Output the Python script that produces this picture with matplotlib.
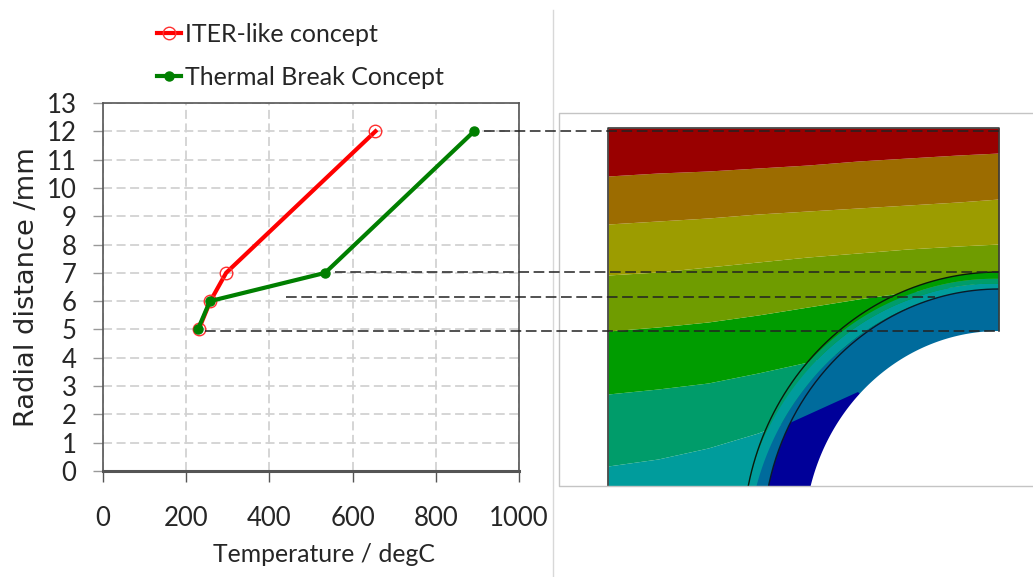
import numpy as np
import matplotlib
matplotlib.use("Agg")
import matplotlib.pyplot as plt

W, H = 1033, 577
plt.rcParams['font.family'] = ['Lato', 'DejaVu Sans']

# ---- chart data
radial_mm = [5, 6, 7, 12]
iter_like_temp = [230, 258, 296, 655]
thermal_break_temp = [228, 257, 534, 892]
series_names = ['ITER-like concept', 'Thermal Break Concept']
x_ticks = [0, 200, 400, 600, 800, 1000]
y_ticks = list(range(0, 14))

# ---- contour map bands (model section, pixels of the section: x from left, y from bottom)
section_x = [0, 50, 100, 150, 200, 250, 300, 350, 391]
red_brown = [310, 313, 315, 318, 321, 325, 328, 331, 333]
brown_yellow = [262, 265, 268, 272, 275, 278, 281, 284, 287]
yellow_olive = [211, 214, 219, 224, 229, 233, 237, 240, 242]
olive_green = [155, 159, 164, 171, 179, 187, 194, 200, 206]
green_tealgreen = [92, 97, 103, 113, 124, 137, 153, 170, 186]
tealgreen_teal = [20, 27, 38, 53, 72, 100, 130, 150, 170]
section_top = 358
band_colors = ['#009C9C', '#009C6A', '#009C00', '#6F9C00', '#9C9C00', '#9C6C00', '#990000']

C_GREEN, C_TGREEN, C_TEAL, C_BLUE, C_NAVY = '#009C00', '#009C6A', '#009C9C', '#006B9C', '#000099'

# ring bands: share of ring thickness measured from the outer arc, per arc angle
ring_angle = [0, 20, 40, 55, 70, 80]
ring_green_end = [.40, .30, .12, 0, 0, 0]
ring_tgreen_end = [.68, .58, .38, .22, .05, 0]
ring_teal_end = [1, 1, .88, .72, .52, .38]

# ellipse semi-axes of the arcs and their centre
centre = (391, -54)
outer_arc = (256, 268)
inner_arc = (236, 251)
hole_arc = (195, 209)
navy_region = [(250, 94), (184, 64), (60, 8), (60, -54), (391, -54)]

# leader lines: (start x, end x, y) in figure pixels
leaders = [(484, 999, 131), (335, 999, 272), (286, 935, 297), (205, 999, 331)]

fig = plt.figure(figsize=(W / 100, H / 100), dpi=100, facecolor='white')


def rect(l, t, r, b):
    return [l / W, 1 - b / H, (r - l) / W, (b - t) / H]


# ---- left chart
ax = fig.add_axes(rect(103, 103, 519, 471))
ax.plot(iter_like_temp, radial_mm, color='#FF0000', lw=3, marker='o', ms=9,
        mfc='none', mec='#FF3030', mew=1, label=series_names[0], clip_on=False, zorder=3)
ax.plot(thermal_break_temp, radial_mm, color='#007F00', lw=3, marker='o', ms=6.5,
        mfc='#007F00', mec='#007F00', label=series_names[1], clip_on=False, zorder=4)
ax.set_xlim(0, 1000)
ax.set_ylim(0, 13)
ax.set_xticks(x_ticks)
ax.set_yticks(y_ticks)
ax.grid(True, color='#D2D2D2', lw=1.3, ls=(0, (5, 2.5)))
ax.set_axisbelow(True)
for side, s in ax.spines.items():
    s.set_color('#555555')
    s.set_linewidth(1.2)
ax.spines['bottom'].set_linewidth(2.2)
ax.tick_params(axis='x', length=8, width=1, color='#555555', pad=17, labelsize=18.5, labelcolor='#262626')
ax.tick_params(axis='y', length=7, width=1, color='#999999', pad=12, labelsize=18.5, labelcolor='#262626')
ax.set_xlabel('Temperature / degC', fontsize=17.8, color='#262626', labelpad=9, x=(324 - 103) / 416)
ax.set_ylabel('Radial distance /mm', fontsize=19.6, color='#262626', labelpad=5,
              family=['DejaVu Sans'])
ax.legend(loc='lower left', bbox_to_anchor=(157 / W, 1 - 89 / H), bbox_transform=fig.transFigure,
          frameon=False, fontsize=18, labelcolor='#262626', handlelength=0.96, handletextpad=0.16,
          labelspacing=0.81, borderpad=0, borderaxespad=0)

# ---- right contour section
pan = fig.add_axes(rect(608, 128, 999, 486))
pan.set_xlim(0, 391)
pan.set_ylim(0, section_top)
pan.axis('off')

n = len(section_x)
edges = [[0] * n, tealgreen_teal, green_tealgreen, olive_green, yellow_olive, brown_yellow,
         red_brown, [section_top] * n]
for i, c in enumerate(band_colors):
    pan.fill_between(section_x, edges[i], edges[i + 1], color=c, lw=0)

t = np.radians(np.linspace(0, 90, 181))


def arc(semi):
    return centre[0] - semi[0] * np.sin(t), centre[1] + semi[1] * np.cos(t)


ox, oy = arc(outer_arc)
ix, iy = arc(inner_arc)


def ring_point(f):
    return ox + (ix - ox) * f, oy + (iy - oy) * f


def profile(vals):
    return np.interp(np.degrees(t), ring_angle, vals)


# matrix inside the inner arc, with its navy part
inner_poly = pan.fill(np.r_[ix, centre[0]], np.r_[iy, centre[1]], color=C_BLUE, lw=0, zorder=2)[0]
nx, ny = zip(*navy_region)
navy = pan.fill(nx, ny, color=C_NAVY, lw=0, zorder=3)[0]
navy.set_clip_path(inner_poly)

# ring bands
stops = [np.zeros_like(t), profile(ring_green_end), profile(ring_tgreen_end), profile(ring_teal_end),
         np.ones_like(t)]
for k, c in enumerate([C_GREEN, C_TGREEN, C_TEAL, C_BLUE]):
    ax1, ay1 = ring_point(stops[k])
    ax2, ay2 = ring_point(stops[k + 1])
    pan.fill(np.r_[ax1, ax2[::-1]], np.r_[ay1, ay2[::-1]], color=c, lw=0, zorder=4)

# hole, painted a little past the section edge so that no seam is left
hx, hy = arc(hole_arc)
y_hole_top = centre[1] + hole_arc[1]
pan.fill(np.r_[hx, centre[0], centre[0] + 3, centre[0] + 3],
         np.r_[hy, centre[1], centre[1], y_hole_top],
         color='white', lw=0, zorder=6, clip_on=False)
pan.plot(ox, oy, color='#0A1A0A', lw=1.0, zorder=7)
pan.plot(ix, iy, color='#0A1A2A', lw=1.0, zorder=7)

# section outline
pan.plot([0, 0, 391, 391], [0, section_top, section_top, y_hole_top], color='#3A3A3A', lw=1.2,
         clip_on=False, zorder=8)

# ---- overlay: frame, separator and dashed leaders, in figure pixels
ov = fig.add_axes([0, 0, 1, 1], zorder=10)
ov.set_xlim(0, W)
ov.set_ylim(H, 0)
ov.axis('off')
ov.patch.set_alpha(0)
ov.plot([553, 553], [10, 577], color='#D8D8D8', lw=1)
ov.plot([1033, 559, 559, 1033], [113, 113, 486, 486], color='#C4C4C4', lw=1)
for x0, x1, y in leaders:
    ov.plot([x0, x1], [y, y], color='#222222', lw=1.1, ls=(0, (7, 3)))

fig.savefig('out.png', dpi=100)
